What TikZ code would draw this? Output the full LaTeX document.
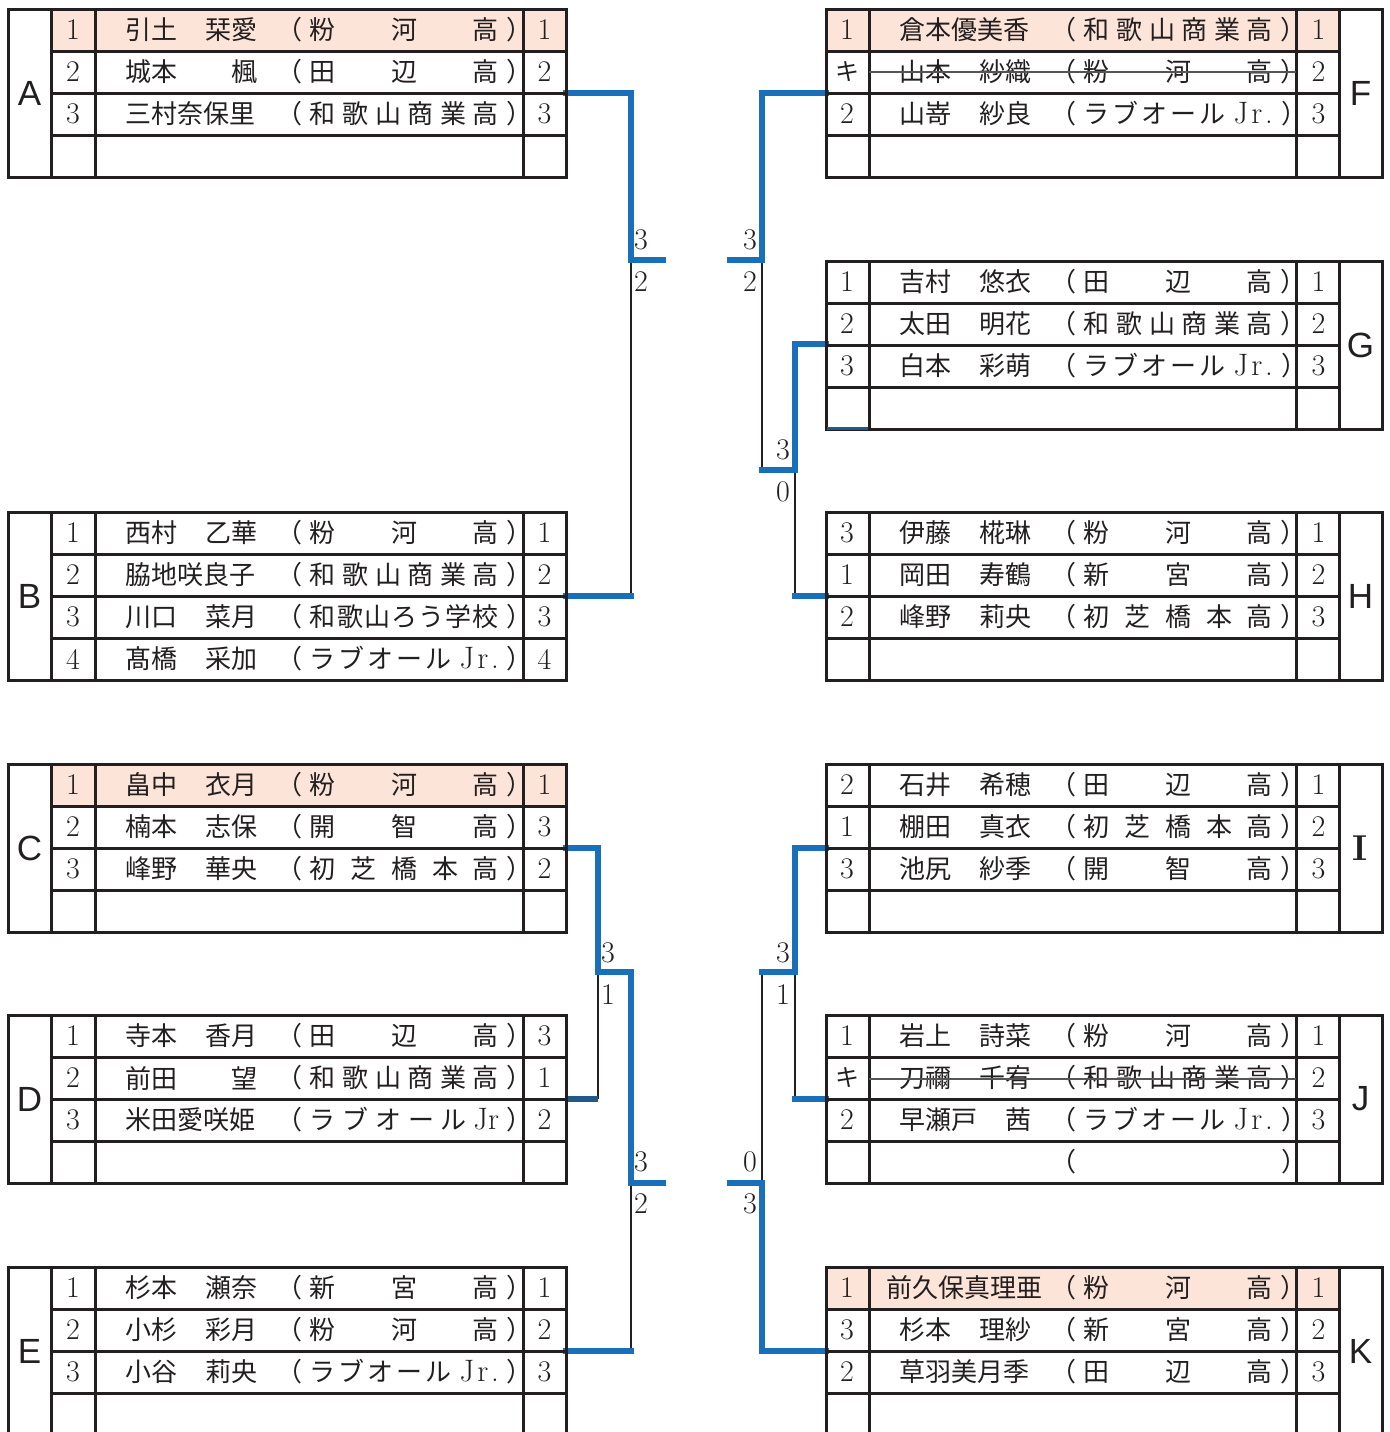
\documentclass[tikz,border=0pt]{standalone}
\usepackage{fontspec}
\newfontfamily\jpfont{Noto Sans CJK JP}
\newfontfamily\grpfont{Liberation Sans}
\usetikzlibrary{calc}
\definecolor{bkBlue}{HTML}{1A6FBA}
\definecolor{bkNavy}{HTML}{1F5A8A}
\definecolor{bkPink}{HTML}{FDE4D8}
\definecolor{bkInk}{HTML}{231F20}
\definecolor{bkGrey}{HTML}{555555}
\tikzset{
  tblline/.style = {bkInk, line width=1.5pt},
  win/.style     = {bkBlue, line width=3pt, line cap=rect},
  navywin/.style = {bkNavy, line width=3pt},
  lose/.style    = {bkInk, line width=1.3pt},
  strike/.style  = {bkGrey, line width=0.7pt},
  numtxt/.style  = {inner sep=0pt, bkInk, font=\fontsize{15}{15}\selectfont},
  jptxt/.style   = {inner sep=0pt, bkInk, font=\jpfont\fontsize{13}{13}\selectfont},
  grptxt/.style  = {inner sep=0pt, bkInk, font=\grpfont\fontsize{17.5}{17.5}\selectfont},
}
% one block of the draw: letter, top edge
\newcommand{\tblL}[2]{%
  \draw[tblline] (8,#2) rectangle (566,{#2+168});
  \foreach \cx in {51,95,523} \draw[tblline] (\cx,#2) -- (\cx,{#2+168});
  \foreach \dy in {42,84,126} \draw[tblline] (51,{#2+\dy}) -- (566,{#2+\dy});
  \node[grptxt] (grp#1) at (29.5,{#2+84}) {#1};
}
\newcommand{\tblR}[2]{%
  \draw[tblline] (826,#2) rectangle (1382,{#2+168});
  \foreach \cx in {869,1296,1339} \draw[tblline] (\cx,#2) -- (\cx,{#2+168});
  \foreach \dy in {42,84,126} \draw[tblline] (826,{#2+\dy}) -- (1339,{#2+\dy});
  \node[grptxt] (grp#1) at (1360.5,{#2+84}) {#1};
}
% one entry: id, left of name column, row centre, rank, name, school, result
\newcommand{\player}[7]{%
  \node[numtxt] (#1r) at ({#2-22},#3) {#4};
  \node[jptxt, anchor=west] (#1n) at ({#2+30},#3) {\makebox[66pt][l]{#5}};
  \node[jptxt] (#1s) at ({#2+309.5},#3) {\makebox[128.5pt]{（\hspace{4pt}#6\hspace{4pt}）}};
  \node[numtxt] (#1w) at ({#2+449.5},#3) {#7};
}
\newcommand{\jrx}{{\rmfamily\fontsize{15.5}{15.5}\selectfont J\hspace{1.5pt}r\hspace{1.5pt}.}}
\newcommand{\lab}{ラ\hfill ブ\hfill オ\hfill ー\hfill ル\hspace{4pt}\jrx}
\newcommand{\wsh}{和\hfill 歌\hfill 山\hfill 商\hfill 業\hfill 高}
\newcommand{\kig}{{\jpfont\fontsize{12}{12}\selectfont キ}}

\begin{document}
\begin{tikzpicture}[x=0.5pt, y=-0.5pt]
  \useasboundingbox (0,0) rectangle (1390,1432);
  % seeded rows
  \fill[bkPink] (51,9) rectangle (566,51);
  \fill[bkPink] (51,764) rectangle (566,806);
  \fill[bkPink] (826,9) rectangle (1339,51);
  \fill[bkPink] (826,1267) rectangle (1339,1309);

  % bracket ends at the blocks
  \coordinate (A-out) at (566,93);
  \coordinate (B-out) at (566,596);
  \coordinate (C-out) at (566,848);
  \coordinate (D-out) at (566,1099);
  \coordinate (E-out) at (566,1351);
  \coordinate (F-out) at (826,93);
  \coordinate (G-out) at (826,344);
  \coordinate (H-out) at (826,596);
  \coordinate (I-out) at (826,848);
  \coordinate (J-out) at (826,1099);
  \coordinate (K-out) at (826,1351);
  \coordinate (AB) at (631,260);     \coordinate (AB-end) at (663,260);
  \coordinate (FGH) at (762,260);    \coordinate (FGH-end) at (730,260);
  \coordinate (GH) at (795,470);
  \coordinate (CD) at (598,972);
  \coordinate (CDE) at (631,1183);   \coordinate (CDE-end) at (663,1183);
  \coordinate (IJ) at (795,972);
  \coordinate (IJK) at (762,1183);   \coordinate (IJK-end) at (730,1183);

  % left top
  \draw[lose] (AB) -- (AB |- B-out);
  \draw[win] (A-out) -| (AB) -- (AB-end);
  \draw[win] (B-out) -- (AB |- B-out);
  % right top
  \draw[lose] (FGH) -- (FGH |- GH);
  \draw[lose] (GH) -- (GH |- H-out);
  \draw[win] (F-out) -| (FGH) -- (FGH-end);
  \draw[win] (G-out) -| (GH) -- (FGH |- GH);
  \draw[win] (H-out) -- (GH |- H-out);
  % left bottom
  \draw[lose] (CD) -- (CD |- D-out);
  \draw[lose] (CDE) -- (CDE |- E-out);
  \draw[win] (C-out) -| (CD) -| (CDE) -- (CDE-end);
  \draw[navywin] (D-out) -- (CD |- D-out);
  \draw[win] (E-out) -- (CDE |- E-out);
  % right bottom
  \draw[lose] (IJ) -- (IJ |- J-out);
  \draw[lose] (IJK |- IJ) -- (IJK);
  \draw[win] (I-out) -| (IJ) -- (IJK |- IJ);
  \draw[win] (J-out) -- (IJ |- J-out);
  \draw[win] (K-out) -| (IJK) -- (IJK-end);

  % blocks
  \tblL{A}{9}
  \tblL{B}{512}
  \tblL{C}{764}
  \tblL{D}{1015}
  \tblL{E}{1267}
  \tblR{F}{9}
  \tblR{G}{261}
  \tblR{H}{512}
  \node[inner sep=0pt, bkInk, font=\rmfamily\bfseries\fontsize{18}{18}\selectfont] (grpI) at (1360.5,848) {I};
  \tblR{}{764}
  \tblR{J}{1015}
  \tblR{K}{1267}
  \draw[bkNavy, line width=1.5pt] (827,428) -- (868,428);

  % entries, left
  \player{A1}{95}{30}{1}{引土\hfill 栞愛}{粉\hfill 河\hfill 高}{1}
  \player{A2}{95}{72}{2}{城本\hfill 楓}{田\hfill 辺\hfill 高}{2}
  \player{A3}{95}{114}{3}{三村奈保里}{\wsh}{3}
  \player{B1}{95}{533}{1}{西村\hfill 乙華}{粉\hfill 河\hfill 高}{1}
  \player{B2}{95}{575}{2}{脇地咲良子}{\wsh}{2}
  \player{B3}{95}{617}{3}{川口\hfill 菜月}{和\hfill 歌\hfill 山\hfill ろ\hfill う\hfill 学\hfill 校}{3}
  \player{B4}{95}{659}{4}{髙橋\hfill 采加}{\lab}{4}
  \player{C1}{95}{785}{1}{畠中\hfill 衣月}{粉\hfill 河\hfill 高}{1}
  \player{C2}{95}{827}{2}{楠本\hfill 志保}{開\hfill 智\hfill 高}{3}
  \player{C3}{95}{869}{3}{峰野\hfill 華央}{初\hfill 芝\hfill 橋\hfill 本\hfill 高}{2}
  \player{D1}{95}{1036}{1}{寺本\hfill 香月}{田\hfill 辺\hfill 高}{3}
  \player{D2}{95}{1078}{2}{前田\hfill 望}{\wsh}{1}
  \player{D3}{95}{1120}{3}{米田愛咲姫}{ラ\hfill ブ\hfill オ\hfill ー\hfill ル\hfill {\rmfamily\fontsize{15.5}{15.5}\selectfont Jr}}{2}
  \player{E1}{95}{1288}{1}{杉本\hfill 瀬奈}{新\hfill 宮\hfill 高}{1}
  \player{E2}{95}{1330}{2}{小杉\hfill 彩月}{粉\hfill 河\hfill 高}{2}
  \player{E3}{95}{1372}{3}{小谷\hfill 莉央}{\lab}{3}
  % entries, right
  \player{F1}{869}{30}{1}{倉本優美香}{\wsh}{1}
  \player{F2}{869}{72}{\kig}{山本\hfill 紗織}{粉\hfill 河\hfill 高}{2}
  \player{F3}{869}{114}{2}{山嵜\hfill 紗良}{\lab}{3}
  \player{G1}{869}{282}{1}{吉村\hfill 悠衣}{田\hfill 辺\hfill 高}{1}
  \player{G2}{869}{324}{2}{太田\hfill 明花}{\wsh}{2}
  \player{G3}{869}{366}{3}{白本\hfill 彩萌}{\lab}{3}
  \player{H1}{869}{533}{3}{伊藤\hfill 椛琳}{粉\hfill 河\hfill 高}{1}
  \player{H2}{869}{575}{1}{岡田\hfill 寿鶴}{新\hfill 宮\hfill 高}{2}
  \player{H3}{869}{617}{2}{峰野\hfill 莉央}{初\hfill 芝\hfill 橋\hfill 本\hfill 高}{3}
  \player{I1}{869}{785}{2}{石井\hfill 希穂}{田\hfill 辺\hfill 高}{1}
  \player{I2}{869}{827}{1}{棚田\hfill 真衣}{初\hfill 芝\hfill 橋\hfill 本\hfill 高}{2}
  \player{I3}{869}{869}{3}{池尻\hfill 紗季}{開\hfill 智\hfill 高}{3}
  \player{J1}{869}{1036}{1}{岩上\hfill 詩菜}{粉\hfill 河\hfill 高}{1}
  \player{J2}{869}{1078}{\kig}{刀禰\hfill 千宥}{\wsh}{2}
  \player{J3}{869}{1120}{2}{早瀬戸\hfill 茜}{\lab}{3}
  \node[jptxt] (J4s) at (1178.5,1162) {\makebox[128.5pt]{（\hfill ）}};
  \player{K1}{869}{1288}{1}{\hspace*{-6.5pt}前久保真理亜}{粉\hfill 河\hfill 高}{1}
  \player{K2}{869}{1330}{3}{杉本\hfill 理紗}{新\hfill 宮\hfill 高}{2}
  \player{K3}{869}{1372}{2}{草羽美月季}{田\hfill 辺\hfill 高}{3}
  % withdrawn entries
  \draw[strike] (869,72) -- (1296,72);
  \draw[strike] (869,1079) -- (1296,1079);

  % scores
  \node[numtxt] (sA) at (641,240) {3};
  \node[numtxt] (sB) at (641,282) {2};
  \node[numtxt] (sF) at (750,240) {3};
  \node[numtxt] (sGH) at (750,282) {2};
  \node[numtxt] (sG) at (783,450) {3};
  \node[numtxt] (sH) at (783,492) {0};
  \node[numtxt] (sC) at (608,953) {3};
  \node[numtxt] (sD) at (608,995) {1};
  \node[numtxt] (sCD) at (641,1162) {3};
  \node[numtxt] (sE) at (641,1204) {2};
  \node[numtxt] (sI) at (783,953) {3};
  \node[numtxt] (sJ) at (783,995) {1};
  \node[numtxt] (sIJ) at (750,1162) {0};
  \node[numtxt] (sK) at (750,1204) {3};
\end{tikzpicture}
\end{document}
